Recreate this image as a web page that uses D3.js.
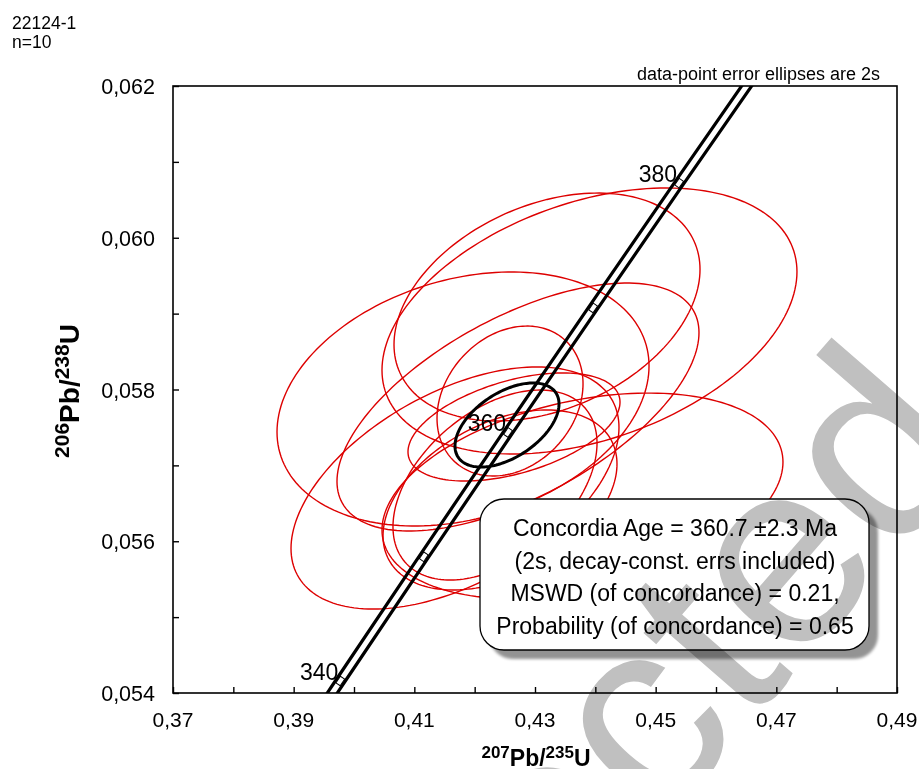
<!DOCTYPE html>
<html><head><meta charset="utf-8">
<script src="https://cdn.jsdelivr.net/npm/d3@7"></script>
<style>
body{margin:0;background:#fff}
svg{display:block}
text{font-family:"Liberation Sans",Arial,sans-serif}
</style>
</head><body>
<svg id="c" width="919" height="769"></svg>
<script>
// ---------- data ----------
const sampleName = "22124-1";
const sampleN = "n=10";
const noteText = "data-point error ellipses are 2s";
const xDomain = [0.37, 0.49];
const yDomain = [0.054, 0.062];
const xTickValues = [0.37,0.38,0.39,0.40,0.41,0.42,0.43,0.44,0.45,0.46,0.47,0.48,0.49];
const xLabelValues = [0.37,0.39,0.41,0.43,0.45,0.47,0.49];
const yTickValues = [0.054,0.055,0.056,0.057,0.058,0.059,0.060,0.061,0.062];
const yLabelValues = [0.054,0.056,0.058,0.060,0.062];

// concordia (Ma, 207Pb/235U, 206Pb/238U)
const concAges = [330,340,350,360,370,380,390];
const concX = [0.384031,0.397729,0.411562,0.425533,0.439642,0.453891,0.468279];
const concY = [0.052524,0.054158,0.055795,0.057434,0.059075,0.060720,0.062366];
const concBandHalf = 0.00083;
const markerAges = [340,350,360,370,380];
const labelAges = [340,360,380];

// data-point ellipses: centre, 2s half-widths, error correlation
const ellX   = [0.43903,0.43199,0.41807,0.42718,0.41674,0.43787,0.42586,0.42652,0.42420,0.42337];
const ellY   = [0.058903,0.059087,0.057875,0.057769,0.056702,0.056596,0.057848,0.057506,0.056544,0.056741];
const ellSX  = [0.03439,0.02536,0.03083,0.03000,0.02718,0.03323,0.01210,0.01757,0.01939,0.01691];
const ellSY  = [0.001753,0.001502,0.001674,0.001634,0.001595,0.001357,0.000988,0.000712,0.001186,0.001252];
const ellRho = [0.37,0.33,0.26,0.60,0.50,0.33,0.23,0.46,0.40,0.44];

// concordia age ellipse
const ageX = [0.42536], ageY = [0.057532], ageSX = [0.00862], ageSY = [0.000554], ageRho = [0.5];

const boxLines = ["Concordia Age = 360.7 \u00b12.3 Ma",
                  "(2s, decay-const. errs included)",
                  "MSWD (of concordance) = 0.21,",
                  "Probability (of concordance) = 0.65"];
const watermark = "Protected";

// ---------- layout ----------
const svg = d3.select("#c");
const L = 173, T = 86, W = 724, H = 607;
const x = d3.scaleLinear().domain(xDomain).range([L, L+W]);
const y = d3.scaleLinear().domain(yDomain).range([T+H, T]);
const comma = f => v => d3.format(f)(v).replace(".", ",");

const defs = svg.append("defs");
defs.append("clipPath").attr("id","plot")
  .append("rect").attr("x",L).attr("y",T).attr("width",W).attr("height",H);
defs.append("filter").attr("id","sh")
  .attr("x","-10%").attr("y","-10%").attr("width","130%").attr("height","130%")
  .append("feGaussianBlur").attr("stdDeviation",1.8);

const plot = svg.append("g").attr("clip-path","url(#plot)");

function ellipsePts(cx, cy, sx, sy, r) {
  const pts = [];
  const q = Math.sqrt(1 - r*r);
  for (let i = 0; i < 180; i++) {
    const t = i / 180 * 2 * Math.PI;
    pts.push([cx + sx*Math.cos(t), cy + sy*(r*Math.cos(t) + q*Math.sin(t))]);
  }
  return pts;
}
const line = d3.line().x(d => x(d[0])).y(d => y(d[1])).curve(d3.curveLinearClosed);

// red data ellipses
ellX.forEach((cx, i) => {
  plot.append("path")
    .attr("d", line(ellipsePts(cx, ellY[i], ellSX[i], ellSY[i], ellRho[i])))
    .attr("fill","none").attr("stroke","#dd0000").attr("stroke-width",1.4);
});

// concordia band
const conc = concAges.map((a,i) => ({a, x: concX[i], y: concY[i]}));
[-1, 1].forEach(s => {
  plot.append("path")
    .attr("d", d3.line().x(d => x(d.x + s*concBandHalf)).y(d => y(d.y)).curve(d3.curveNatural)(conc))
    .attr("fill","none").attr("stroke","#000").attr("stroke-width",3.2);
});

// age markers
const angleAt = a => {
  const i = concAges.indexOf(a);
  const p = conc[i-1], n = conc[i+1];
  return Math.atan2(y(n.y) - y(p.y), x(n.x) - x(p.x)) * 180 / Math.PI;
};
markerAges.forEach(a => {
  const d = conc[concAges.indexOf(a)];
  plot.append("rect")
    .attr("x",-4).attr("y",-2.6).attr("width",8).attr("height",5.2)
    .attr("transform",`translate(${x(d.x)},${y(d.y)}) rotate(${angleAt(a)})`)
    .attr("fill","#fff").attr("stroke","#000").attr("stroke-width",1);
});
labelAges.forEach(a => {
  const d = conc[concAges.indexOf(a)];
  svg.append("text").attr("x", x(d.x) - 2).attr("y", y(d.y) - 1)
    .attr("text-anchor","end").attr("font-size",23).text(a);
});

// concordia age ellipse
plot.append("path")
  .attr("d", line(ellipsePts(ageX[0], ageY[0], ageSX[0], ageSY[0], ageRho[0])))
  .attr("fill","none").attr("stroke","#000").attr("stroke-width",3);

// result box
const bx = 480, by = 499, bw = 389, bh = 151;
svg.append("rect").attr("x",bx+9).attr("y",by+9).attr("width",bw).attr("height",bh)
  .attr("rx",24).attr("fill","#000").attr("opacity",0.42).attr("filter","url(#sh)");
svg.append("rect").attr("x",bx).attr("y",by).attr("width",bw).attr("height",bh)
  .attr("rx",24).attr("fill","#fff");

// watermark
svg.append("text").attr("transform","translate(244,1306) rotate(-49)")
  .attr("font-size",265).attr("fill","#c0c0c0")
  .style("mix-blend-mode","multiply").text(watermark);

svg.append("rect").attr("x",bx).attr("y",by).attr("width",bw).attr("height",bh)
  .attr("rx",24).attr("fill","none").attr("stroke","#000").attr("stroke-width",1.3);
boxLines.forEach((s,i) => {
  svg.append("text").attr("x", 675).attr("y", 536 + i*32.7)
    .attr("text-anchor","middle").attr("font-size",23).text(s);
});

// axes
svg.append("rect").attr("x",L).attr("y",T).attr("width",W).attr("height",H)
  .attr("fill","none").attr("stroke","#000").attr("stroke-width",1.6);

const xAxis = svg.append("g").attr("transform",`translate(0,${T+H})`)
  .call(d3.axisBottom(x).tickValues(xTickValues).tickSizeInner(-6).tickSizeOuter(0).tickFormat(""));
xAxis.select(".domain").remove();
xAxis.selectAll("line").attr("stroke","#000").attr("stroke-width",1.4);
xLabelValues.forEach(v => {
  svg.append("text").attr("x", x(v)).attr("y", T+H+34).attr("text-anchor","middle")
    .attr("font-size",21).text(comma(".2f")(v));
});

const yAxis = svg.append("g").attr("transform",`translate(${L},0)`)
  .call(d3.axisLeft(y).tickValues(yTickValues).tickSizeInner(-6).tickSizeOuter(0).tickFormat(""));
yAxis.select(".domain").remove();
yAxis.selectAll("line").attr("stroke","#000").attr("stroke-width",1.4);
yLabelValues.forEach(v => {
  svg.append("text").attr("x", 155).attr("y", y(v) + 8).attr("text-anchor","end")
    .attr("font-size",21.5).text(comma(".3f")(v));
});

// axis titles
function isoTitle(sel, a, b, big, small, rise) {
  sel.attr("font-weight","bold").attr("font-size",big).attr("text-anchor","middle");
  sel.append("tspan").attr("font-size",small).attr("dy",-rise).text(a);
  sel.append("tspan").attr("dy",rise).text("Pb/");
  sel.append("tspan").attr("font-size",small).attr("dy",-rise).text(b);
  sel.append("tspan").attr("dy",rise).text("U");
}
isoTitle(svg.append("text").attr("x", 536).attr("y", 766), "207", "235", 23, 17, 8);
isoTitle(svg.append("text").attr("transform","translate(79,391) rotate(-90)"), "206", "238", 28, 21, 10);

// notes
svg.append("text").attr("x", 880).attr("y", 80).attr("text-anchor","end")
  .attr("font-size",18).text(noteText);
svg.append("text").attr("x", 12).attr("y", 29).attr("font-size",17.5).text(sampleName);
svg.append("text").attr("x", 12).attr("y", 48).attr("font-size",17.5).text(sampleN);
</script>
</body></html>
